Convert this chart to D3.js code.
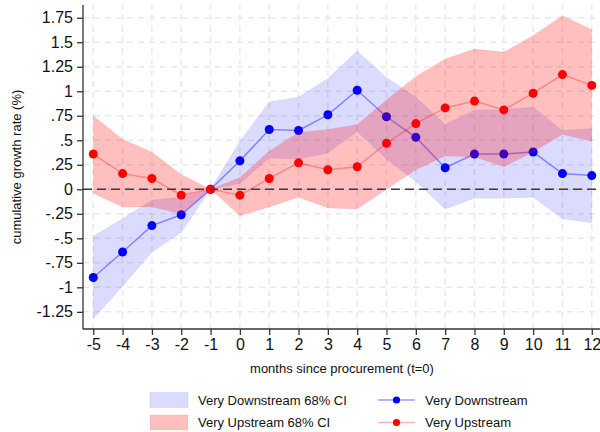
<!DOCTYPE html>
<html>
<head>
<meta charset="utf-8">
<script src="https://cdn.jsdelivr.net/npm/d3@7"></script>
<style>
  html, body { margin: 0; padding: 0; background: #fff; }
  svg { display: block; font-family: Arial, "Liberation Sans", sans-serif; }
</style>
</head>
<body>
<svg id="chart" width="600" height="432"></svg>
<script>
const months = [-5,-4,-3,-2,-1,0,1,2,3,4,5,6,7,8,9,10,11,12];
const downstream   = [-0.90,-0.64,-0.37,-0.26,0,0.29,0.61,0.60,0.76,1.01,0.74,0.53,0.22,0.36,0.36,0.38,0.16,0.14];
const downstreamLo = [-1.32,-0.99,-0.64,-0.44,0,0.06,0.32,0.31,0.37,0.59,0.31,0.08,-0.20,-0.09,-0.09,-0.08,-0.30,-0.34];
const downstreamHi = [-0.48,-0.30,-0.11,-0.08,0,0.49,0.89,0.94,1.13,1.41,1.14,0.94,0.66,0.81,0.81,0.84,0.60,0.62];
const upstream   = [0.36,0.16,0.11,-0.06,0,-0.06,0.11,0.27,0.20,0.23,0.47,0.67,0.83,0.90,0.81,0.98,1.17,1.06];
const upstreamLo = [-0.04,-0.18,-0.18,-0.25,0,-0.27,-0.18,-0.08,-0.19,-0.20,0.00,0.20,0.34,0.33,0.23,0.38,0.56,0.49];
const upstreamHi = [0.75,0.51,0.38,0.15,0,0.12,0.39,0.58,0.61,0.66,0.91,1.15,1.33,1.43,1.40,1.57,1.77,1.63];
const yTicks = [-1.25,-1,-0.75,-0.5,-0.25,0,0.25,0.5,0.75,1,1.25,1.5,1.75];
const yTickLabels = ["-1.25","-1","-.75","-.5","-.25","0",".25",".5",".75","1","1.25","1.5","1.75"];
const xTickLabels = ["-5","-4","-3","-2","-1","0","1","2","3","4","5","6","7","8","9","10","11","12"];
const xTitle = "months since procurement (t=0)";
const yTitle = "cumulative growth rate (%)";
const legendLabels = ["Very Downstream 68% CI","Very Upstream 68% CI","Very Downstream","Very Upstream"];

const svg = d3.select("#chart");
const L = 83, R = 600, T = 5, B = 329;
const x = d3.scaleLinear().domain([-5.35, 12.28]).range([L, R]);
const y = d3.scaleLinear().domain([-1.425, 1.88]).range([B, T]);

const BLUE = "rgb(0,0,255)", RED = "rgb(255,0,0)";

// grid
const grid = svg.append("g");
grid.selectAll("line.h").data(yTicks).join("line")
  .attr("x1", L).attr("x2", R).attr("y1", d => y(d)).attr("y2", d => y(d))
  .attr("stroke", "#e9e9e9").attr("stroke-width", 1.5).attr("stroke-dasharray", "6,5");
grid.selectAll("line.v").data(months).join("line")
  .attr("x1", d => x(d)).attr("x2", d => x(d)).attr("y1", B).attr("y2", T)
  .attr("stroke", "#e9e9e9").attr("stroke-width", 1.5).attr("stroke-dasharray", "6,5");

function series(vals, lo, hi) {
  return months.map((m, i) => ({ m, v: vals[i], lo: lo[i], hi: hi[i] }));
}
const dn = series(downstream, downstreamLo, downstreamHi);
const up = series(upstream, upstreamLo, upstreamHi);

const area = d3.area().x(d => x(d.m)).y0(d => y(d.lo)).y1(d => y(d.hi));
const line = d3.line().x(d => x(d.m)).y(d => y(d.v));

// blue band + line + markers
svg.append("path").datum(dn).attr("d", area)
  .attr("fill", BLUE).attr("fill-opacity", 0.14)
  .attr("stroke", BLUE).attr("stroke-opacity", 0.06).attr("stroke-width", 1);
svg.append("path").datum(dn).attr("d", line)
  .attr("fill", "none").attr("stroke", BLUE).attr("stroke-opacity", 0.4).attr("stroke-width", 1.5);
svg.append("g").selectAll("circle").data(dn).join("circle")
  .attr("cx", d => x(d.m)).attr("cy", d => y(d.v)).attr("r", 4.5).attr("fill", BLUE);

// red band + line + markers
svg.append("path").datum(up).attr("d", area)
  .attr("fill", RED).attr("fill-opacity", 0.25)
  .attr("stroke", RED).attr("stroke-opacity", 0.06).attr("stroke-width", 1);
svg.append("path").datum(up).attr("d", line)
  .attr("fill", "none").attr("stroke", RED).attr("stroke-opacity", 0.3).attr("stroke-width", 1.5);
svg.append("g").selectAll("circle").data(up).join("circle")
  .attr("cx", d => x(d.m)).attr("cy", d => y(d.v)).attr("r", 4.5).attr("fill", RED);

// zero line
svg.append("line").attr("x1", L).attr("x2", R).attr("y1", y(0)).attr("y2", y(0))
  .attr("stroke", "#3a3a3a").attr("stroke-width", 1.6).attr("stroke-dasharray", "9,5");

// axes
const yAxis = d3.axisLeft(y).tickValues(yTicks)
  .tickFormat((d, i) => yTickLabels[i]).tickSize(6).tickPadding(4);
const gy = svg.append("g").attr("transform", `translate(${L},0)`).call(yAxis);
gy.select(".domain").attr("d", `M0,${T}V${B}`);
const xAxis = d3.axisBottom(x).tickValues(months)
  .tickFormat((d, i) => xTickLabels[i]).tickSize(6).tickPadding(4);
const gx = svg.append("g").attr("transform", `translate(0,${B})`).call(xAxis);
gx.select(".domain").attr("d", `M${L},0H${R}`);
[gx, gy].forEach(g => {
  g.select(".domain").attr("stroke", "#333").attr("stroke-width", 1.3);
  g.selectAll(".tick line").attr("stroke", "#333").attr("stroke-width", 1.3);
  g.selectAll(".tick text").attr("fill", "#111").style("font-size", "16px")
    .style("font-family", "Arial, 'Liberation Sans', sans-serif");
});

// titles
svg.append("text").attr("x", 342).attr("y", 373).attr("text-anchor", "middle")
  .style("font-size", "13px").attr("fill", "#111").text(xTitle);
svg.append("text").attr("transform", `translate(21,${(T + B) / 2}) rotate(-90)`)
  .attr("text-anchor", "middle").style("font-size", "13px").attr("fill", "#111").text(yTitle);

// legend
const leg = svg.append("g");
const rows = [400, 422.5];
[[BLUE, 0.14], [RED, 0.25]].forEach(([c, a], i) => {
  leg.append("rect").attr("x", 150).attr("y", rows[i] - 7.5).attr("width", 38).attr("height", 15)
    .attr("fill", c).attr("fill-opacity", a).attr("stroke", c).attr("stroke-opacity", 0.08);
  leg.append("text").attr("x", 198).attr("y", rows[i] + 4.6).style("font-size", "13px")
    .attr("fill", "#111").text(legendLabels[i]);
});
[[BLUE, 0.4], [RED, 0.3]].forEach(([c, a], i) => {
  leg.append("line").attr("x1", 378).attr("x2", 415).attr("y1", rows[i]).attr("y2", rows[i])
    .attr("stroke", c).attr("stroke-opacity", a).attr("stroke-width", 1.3);
  leg.append("circle").attr("cx", 396.5).attr("cy", rows[i]).attr("r", 3.6).attr("fill", c);
  leg.append("text").attr("x", 425).attr("y", rows[i] + 4.6).style("font-size", "13px")
    .attr("fill", "#111").text(legendLabels[i + 2]);
});
</script>
</body>
</html>
